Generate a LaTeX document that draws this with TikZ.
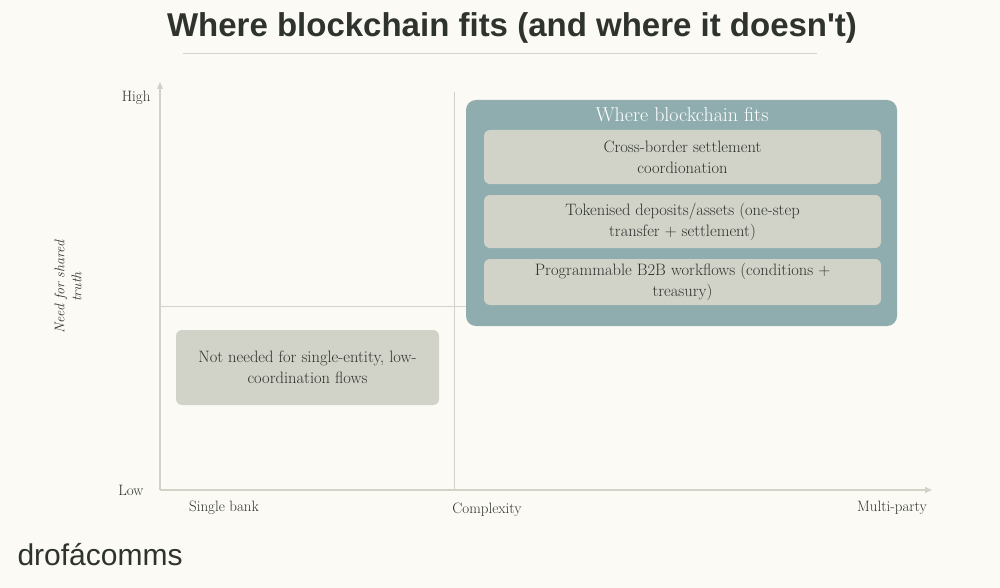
\documentclass[tikz,border=0pt]{standalone}
\usepackage{fontspec}
\newfontfamily\titlefont{Liberation Sans}
\usetikzlibrary{arrows.meta}
\definecolor{bg}{HTML}{FCFAF4}
\definecolor{ink}{HTML}{2E332E}
\definecolor{axis}{HTML}{D3D2C8}
\definecolor{teal}{HTML}{8FADAE}
\definecolor{card}{HTML}{D1D2C8}
\begin{document}
\begin{tikzpicture}[x=1pt,y=-1pt,
  card/.style={fill=card,rounded corners=6pt,draw=none,align=center,text=ink,font=\fontsize{16.5}{21}\selectfont},
  lbl/.style={text=ink,font=\fontsize{15}{18}\selectfont},
  ax/.style={draw=axis,line width=1.2pt,-{Triangle[length=7pt,width=6pt]}}]
\fill[bg] (0,0) rectangle (1000,588);
\useasboundingbox (0,0) rectangle (1000,588);
\node[text=ink,font=\titlefont\bfseries\fontsize{33}{38}\selectfont] (title) at (512,28) {Where blockchain fits (and where it doesn't)};
\draw[axis,line width=1pt] (183,54) -- (817,54);
\coordinate (o) at (160,490);
\coordinate (ytop) at (160,82);
\coordinate (xend) at (932,490);
\draw[ax] (o) -- (ytop);
\draw[ax] (o) -- (xend);
\draw[axis,line width=0.8pt] (454,92) -- (454,490);
\draw[axis,line width=0.8pt] (160,306) -- (466,306);
\node[lbl,anchor=east] (high) at (154,98) {High};
\node[lbl,anchor=east] (low) at (147,490) {Low};
\node[lbl] (sb) at (224,508) {Single bank};
\node[lbl] (cx) at (487,510) {Complexity};
\node[lbl] (mp) at (892,508) {Multi-party};
\node[lbl,rotate=90,align=center,font=\itshape\fontsize{14}{17}\selectfont] (yl) at (68,287) {Need for shared\\truth};
\fill[teal,rounded corners=10pt] (466,100) rectangle (897,326);
\node[text=white,font=\fontsize{20}{24}\selectfont] (fits) at (682,115) {Where blockchain fits};
\node[card,minimum width=397pt,minimum height=54pt] (c1) at (682.5,157) {Cross-border settlement\\coordionation};
\node[card,minimum width=397pt,minimum height=53pt] (c2) at (682.5,221.5) {Tokenised deposits/assets (one-step\\transfer + settlement)};
\node[card,minimum width=397pt,minimum height=46pt] (c3) at (682.5,282) {Programmable B2B workflows (conditions +\\treasury)};
\node[card,minimum width=263pt,minimum height=75pt] (nn) at (307.5,367.5) {Not needed for single-entity, low-\\coordination flows};
\node[text=ink,font=\titlefont\fontsize{30}{33}\selectfont,anchor=west] (logo) at (14,555) {drof\'acomms};
\end{tikzpicture}
\end{document}
